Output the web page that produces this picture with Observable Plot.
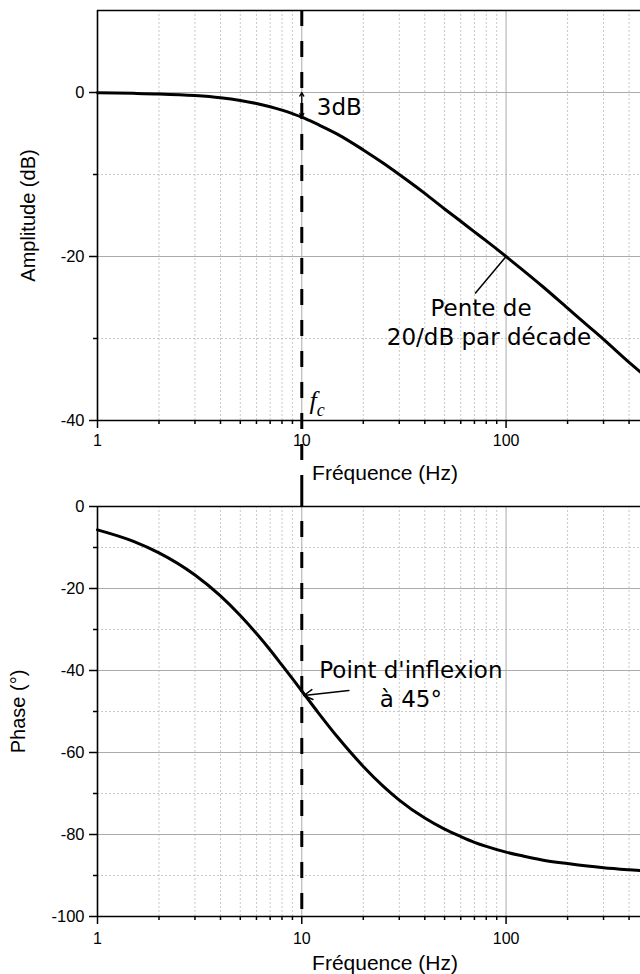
<!DOCTYPE html>
<html>
<head>
<meta charset="utf-8">
<script src="https://cdn.jsdelivr.net/npm/d3@7"></script>
<script src="https://cdn.jsdelivr.net/npm/@observablehq/plot@0.6"></script>
<style>
  html, body { margin: 0; padding: 0; background: white; }
  #chart { width: 640px; }
  #chart svg { display: block; }
</style>
</head>
<body>
<div id="chart"></div>
<script>
// ---- data ----
const freq      = [1, 1.5, 2, 3, 4, 5, 6, 7, 8, 9, 10, 12, 15, 20, 25, 30, 40, 50, 60, 70, 80, 100, 120, 150, 200, 250, 300, 400, 455];
const amplitude = [-0.04, -0.1, -0.17, -0.37, -0.64, -0.97, -1.34, -1.73, -2.15, -2.58, -3.0, -3.9, -5.1, -7.0, -8.6, -10.0, -12.3, -14.2, -15.7, -17.0, -18.1, -20.0, -21.6, -23.6, -26.3, -28.4, -30.1, -32.9, -34.1];
const phase     = [-5.7, -8.5, -11.3, -16.7, -21.8, -26.6, -31.0, -35.0, -38.7, -42.0, -45.0, -50.2, -56.3, -63.4, -68.2, -71.6, -76.0, -78.7, -80.5, -81.9, -82.9, -84.3, -85.2, -86.2, -87.1, -87.7, -88.1, -88.6, -88.8];

const xDomain = [1, 455];
const xMajor = [1, 10, 100];
const xMinor = [2, 3, 4, 5, 6, 7, 8, 9, 20, 30, 40, 50, 60, 70, 80, 90, 200, 300, 400];

const ampDomain = [-40, 10];
const ampMajor = [-40, -20, 0];
const ampMinor = [-30, -10];

const phaseDomain = [-100, 0];
const phaseMajor = [-100, -80, -60, -40, -20, 0];
const phaseMinor = [-90, -70, -50, -30, -10];

const fc = 10;
const fcSpanTop = [10, -48.54];
const fcSpanBottom = [3.9, -100];

// annotations
const dbNote = [{t: "3dB", x: 11.85, y: -2.8}];
const slopeNotes = [
  {t: "Pente de", x: 75.4, y: -27.3},
  {t: "20/dB par décade", x: 82.5, y: -30.85}
];
const ampCallout = [{x1: 100, y1: -20, x2: 70.5, y2: -24.5}];
const dbArrows = [{x1: 10, y1: -1.5, x2: 10, y2: 0}, {x1: 10, y1: -1.5, x2: 10, y2: -3}];
const fcMain = [{t: "f", x: 10.9, y: -38.6}];
const fcSub = [{t: "c", x: 11.85, y: -39.4}];

const phaseNote = [{t: "Point d'inflexion\nà 45°", x: 34.2, y: -49.0}];
const phaseArrow = [{x1: 17.0, y1: -44.9, x2: 10.23, y2: -46.1}];

const rows = freq.map((f, i) => ({f, a: amplitude[i], p: phase[i]}));

const sans = "'Liberation Sans', Arial, sans-serif";
const serif = "'Liberation Serif', 'DejaVu Serif', serif";
const noteFont = "'DejaVu Sans', sans-serif";
const gridMinor = {stroke: "#c8c8c8", strokeWidth: 1, strokeDasharray: "2,2"};
const gridMajor = {stroke: "#ababab", strokeWidth: 1};
const axisLine = {stroke: "black", strokeWidth: 1.6};
const curveStyle = {stroke: "black", strokeWidth: 3, curve: "monotone-x"};
const plotStyle = {fontFamily: sans, background: "white", color: "black"};

// tick marks (no text) + tick labels drawn as text marks positioned by the scales
function axes(yMajor, yMinor, xLabelDy) {
  return [
    Plot.axisX({ticks: xMajor, tickSize: 8, tickFormat: () => "", label: null, strokeWidth: 1.5}),
    Plot.axisX({ticks: xMinor, tickSize: 4, tickFormat: () => "", label: null, strokeWidth: 1.5}),
    Plot.axisY({ticks: yMajor, tickSize: 8, tickFormat: () => "", label: null, strokeWidth: 1.5}),
    Plot.axisY({ticks: yMinor, tickSize: 4, tickFormat: () => "", label: null, strokeWidth: 1.5}),
    Plot.text(xMajor, {x: d => d, text: d => String(d), frameAnchor: "bottom", dy: xLabelDy, textAnchor: "middle", lineAnchor: "middle", fontSize: 16, fill: "black"}),
    Plot.text(yMajor, {y: d => d, text: d => String(d), frameAnchor: "left", dx: -13, textAnchor: "end", lineAnchor: "middle", fontSize: 16.5, fill: "black"})
  ];
}

// ---- top panel: amplitude ----
const ampPlot = Plot.plot({
  width: 640, height: 490,
  marginTop: 10, marginBottom: 70, marginLeft: 97, marginRight: 0,
  x: {type: "log", domain: xDomain, label: null},
  y: {domain: ampDomain, label: null},
  style: plotStyle,
  marks: [
    Plot.ruleX(xMinor, gridMinor),
    Plot.ruleY(ampMinor, gridMinor),
    Plot.ruleX(xMajor.filter(d => d > xDomain[0]), gridMajor),
    Plot.ruleY(ampMajor.filter(d => d > ampDomain[0]), gridMajor),
    Plot.line(rows, {x: "f", y: "a", ...curveStyle}),
    Plot.ruleX([xDomain[0]], axisLine),
    Plot.ruleY([ampDomain[0], ampDomain[1]], axisLine),
    ...axes(ampMajor, ampMinor, 20),
    Plot.text(["Amplitude (dB)"], {frameAnchor: "left", dx: -69, rotate: -90, textAnchor: "middle", lineAnchor: "middle", fontSize: 20}),
    Plot.text(["Fréquence (Hz)"], {frameAnchor: "bottom", dx: 16, dy: 53, textAnchor: "middle", lineAnchor: "middle", fontSize: 21}),
    Plot.ruleX([fc], {y1: fcSpanTop[0], y2: fcSpanTop[1], stroke: "black", strokeWidth: 3, strokeDasharray: "16,15"}),
    Plot.arrow(dbArrows, {x1: "x1", y1: "y1", x2: "x2", y2: "y2", stroke: "black", strokeWidth: 1.3, headLength: 7}),
    Plot.link(ampCallout, {x1: "x1", y1: "y1", x2: "x2", y2: "y2", stroke: "black", strokeWidth: 1.5}),
    Plot.text(dbNote, {x: "x", y: "y", text: "t", textAnchor: "start", lineAnchor: "bottom", fontFamily: noteFont, fontSize: 23, fill: "black"}),
    Plot.text(slopeNotes, {x: "x", y: "y", text: "t", textAnchor: "middle", lineAnchor: "bottom", fontFamily: noteFont, fontSize: 23, fill: "black"}),
    Plot.text(fcMain, {x: "x", y: "y", text: "t", fontSize: 26, textAnchor: "start", lineAnchor: "bottom", fontFamily: serif, fontStyle: "italic", fill: "black"}),
    Plot.text(fcSub, {x: "x", y: "y", text: "t", fontSize: 18, textAnchor: "start", lineAnchor: "bottom", fontFamily: serif, fontStyle: "italic", fill: "black"})
  ]
});

// ---- bottom panel: phase ----
const phasePlot = Plot.plot({
  width: 640, height: 484,
  marginTop: 16, marginBottom: 58, marginLeft: 97, marginRight: 0,
  x: {type: "log", domain: xDomain, label: null},
  y: {domain: phaseDomain, label: null},
  style: plotStyle,
  marks: [
    Plot.ruleX(xMinor, gridMinor),
    Plot.ruleY(phaseMinor, gridMinor),
    Plot.ruleX(xMajor.filter(d => d > xDomain[0]), gridMajor),
    Plot.ruleY(phaseMajor.filter(d => d > phaseDomain[0] && d < phaseDomain[1]), gridMajor),
    Plot.line(rows, {x: "f", y: "p", ...curveStyle}),
    Plot.ruleX([xDomain[0]], axisLine),
    Plot.ruleY([phaseDomain[0], phaseDomain[1]], axisLine),
    ...axes(phaseMajor, phaseMinor, 22),
    Plot.text(["Phase (°)"], {frameAnchor: "left", dx: -79, rotate: -90, textAnchor: "middle", lineAnchor: "middle", fontSize: 20}),
    Plot.text(["Fréquence (Hz)"], {frameAnchor: "bottom", dx: 16, dy: 47, textAnchor: "middle", lineAnchor: "middle", fontSize: 21}),
    Plot.ruleX([fc], {y1: fcSpanBottom[0], y2: fcSpanBottom[1], stroke: "black", strokeWidth: 3, strokeDasharray: "16,15"}),
    Plot.arrow(phaseArrow, {x1: "x1", y1: "y1", x2: "x2", y2: "y2", stroke: "black", strokeWidth: 1.5, headLength: 10}),
    Plot.text(phaseNote, {x: "x", y: "y", text: "t", textAnchor: "middle", lineAnchor: "bottom", lineHeight: 1.3, fontFamily: noteFont, fontSize: 23, fill: "black"})
  ]
});

document.getElementById("chart").append(ampPlot, phasePlot);
</script>
</body>
</html>
